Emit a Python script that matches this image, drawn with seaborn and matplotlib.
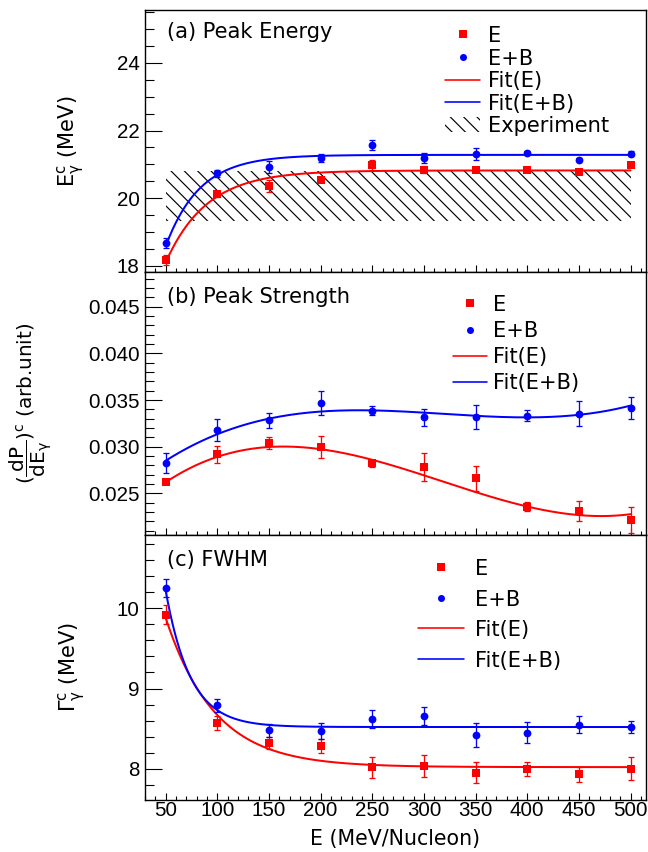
import numpy as np
import pandas as pd
import matplotlib
matplotlib.use("Agg")
import matplotlib.pyplot as plt
import seaborn as sns
from matplotlib.ticker import MultipleLocator
from matplotlib.lines import Line2D
from matplotlib.patches import Patch

# ---------------- data ----------------
beam_energy = [50, 100, 150, 200, 250, 300, 350, 400, 450, 500]

# (a) peak energy (MeV)
peak_E = [18.18, 20.12, 20.37, 20.55, 20.97, 20.84, 20.84, 20.84, 20.78, 20.99]
peak_E_err = [0.15, 0.08, 0.18, 0.08, 0.15, 0.10, 0.08, 0.08, 0.06, 0.08]
peak_EB = [18.68, 20.74, 20.92, 21.19, 21.57, 21.19, 21.30, 21.34, 21.14, 21.32]
peak_EB_err = [0.15, 0.10, 0.18, 0.12, 0.15, 0.14, 0.18, 0.06, 0.05, 0.06]
peak_fit_E = [20.82, 2.72, 39.6]     # plateau, depth, decay length
peak_fit_EB = [21.28, 2.70, 32.9]
experiment_band = [19.34, 20.80]

# (b) peak strength (arb. unit)
strength_E = [0.02616, 0.02917, 0.03040, 0.02993, 0.02822, 0.02779, 0.02659, 0.02355, 0.02308, 0.02214]
strength_E_err = [0.0002, 0.0009, 0.0006, 0.0012, 0.0004, 0.0015, 0.0013, 0.0005, 0.0011, 0.0014]
strength_EB = [0.02826, 0.03181, 0.03283, 0.03471, 0.03384, 0.03315, 0.03319, 0.03333, 0.03355, 0.03413]
strength_EB_err = [0.0011, 0.0012, 0.0008, 0.0013, 0.0005, 0.0009, 0.0013, 0.0006, 0.0013, 0.0012]

# (c) FWHM (MeV)
fwhm_E = [9.92, 8.57, 8.32, 8.28, 8.02, 8.03, 7.95, 8.00, 7.93, 8.00]
fwhm_E_err = [0.12, 0.09, 0.08, 0.09, 0.13, 0.135, 0.13, 0.09, 0.09, 0.14]
fwhm_EB = [10.25, 8.79, 8.48, 8.47, 8.62, 8.66, 8.42, 8.45, 8.55, 8.52]
fwhm_EB_err = [0.11, 0.08, 0.08, 0.105, 0.11, 0.11, 0.15, 0.13, 0.11, 0.08]
fwhm_fit_E = [8.02, 1.86, 47.5]      # plateau, amplitude, decay length
fwhm_fit_EB = [8.52, 1.70, 23.9]

xticks_vals = [50, 100, 150, 200, 250, 300, 350, 400, 450, 500]

# ---------------- style ----------------
DPI = 120
W, H = 648, 852


def pt(px):
    return px * 72.0 / DPI


RED = "#ff0000"
BLUE = "#0000ff"
TXT = pt(21)
TICK_FS = pt(20.5)

sns.set_theme(style="ticks")
plt.rcParams["font.family"] = ["DejaVu Sans"]
plt.rcParams["mathtext.default"] = "regular"
plt.rcParams["hatch.linewidth"] = 0.7
plt.rcParams["hatch.color"] = "black"
plt.rcParams["axes.linewidth"] = pt(1.4)
plt.rcParams["axes.edgecolor"] = "black"
plt.rcParams["text.color"] = "black"
plt.rcParams["axes.labelcolor"] = "black"
plt.rcParams["xtick.color"] = "black"
plt.rcParams["ytick.color"] = "black"
plt.rcParams["xtick.labelcolor"] = "black"
plt.rcParams["ytick.labelcolor"] = "black"

fig = plt.figure(figsize=(W / DPI, H / DPI), dpi=DPI)
L, R = 144.5, 646.0


def add(top, bottom):
    return fig.add_axes([L / W, 1 - bottom / H, (R - L) / W, (bottom - top) / H])


ax_a = add(10, 272)
ax_b = add(272, 535)
ax_c = add(535, 800)

x = np.array(beam_energy, dtype=float)
grid = np.linspace(x[0], x[-1], 400)


def sat(xx, p):
    return p[0] - p[1] * np.exp(-(xx - beam_energy[0]) / p[2])


def decay(xx, p):
    return p[0] + p[1] * np.exp(-(xx - beam_energy[0]) / p[2])


def draw(ax, yE, eE, yEB, eEB, fE, fEB):
    sns.lineplot(x=grid, y=fE, color=RED, lw=pt(2.0), ax=ax, zorder=2)
    sns.lineplot(x=grid, y=fEB, color=BLUE, lw=pt(2.0), ax=ax, zorder=2)
    ax.errorbar(x, yE, yerr=eE, fmt="none", ecolor=RED, elinewidth=pt(1.3),
                capsize=1.6, capthick=pt(1.3), zorder=3)
    ax.errorbar(x, yEB, yerr=eEB, fmt="none", ecolor=BLUE, elinewidth=pt(1.3),
                capsize=1.6, capthick=pt(1.3), zorder=3)
    sns.scatterplot(x=x, y=yE, marker="s", color=RED, s=pt(8.3) ** 2,
                    linewidth=0, ax=ax, zorder=4)
    sns.scatterplot(x=x, y=yEB, marker="o", color=BLUE, s=pt(7.8) ** 2,
                    linewidth=0, ax=ax, zorder=4)


# panel a
draw(ax_a, peak_E, peak_E_err, peak_EB, peak_EB_err,
     sat(grid, peak_fit_E), sat(grid, peak_fit_EB))
ax_a.fill_between([beam_energy[0], beam_energy[-1]], experiment_band[0], experiment_band[1],
                  facecolor="none", edgecolor="black", hatch="\\\\\\", linewidth=0, zorder=1)

# panel b
cE = np.polyfit(x, strength_E, 3, w=1 / np.array(strength_E_err))
cEB = np.polyfit(x, strength_EB, 3, w=1 / np.array(strength_EB_err))
draw(ax_b, strength_E, strength_E_err, strength_EB, strength_EB_err,
     np.polyval(cE, grid), np.polyval(cEB, grid))

# panel c
draw(ax_c, fwhm_E, fwhm_E_err, fwhm_EB, fwhm_EB_err,
     decay(grid, fwhm_fit_E), decay(grid, fwhm_fit_EB))

# ---------------- axes ----------------
limits = {ax_a: (17.82, 25.56), ax_b: (0.02053, 0.04872), ax_c: (7.61, 10.914)}
majors = {ax_a: 2, ax_b: 0.005, ax_c: 1}
minors = {ax_a: 0.5, ax_b: 0.001, ax_c: 0.2}

for ax in (ax_a, ax_b, ax_c):
    ax.set_xlim(29.5, 515)
    ax.set_ylim(*limits[ax])
    ax.set_xticks(xticks_vals)
    ax.xaxis.set_minor_locator(MultipleLocator(10))
    ax.yaxis.set_major_locator(MultipleLocator(majors[ax]))
    ax.yaxis.set_minor_locator(MultipleLocator(minors[ax]))
    ax.tick_params(axis="y", which="major", direction="in", length=pt(17), width=pt(1.1),
                   left=True, right=False, labelsize=TICK_FS, pad=pt(5),
                   labelfontfamily="Liberation Sans", color="black", labelcolor="black")
    ax.tick_params(axis="y", which="minor", direction="in", length=pt(8.5), width=pt(1.1),
                   left=True, right=False, color="black")
    ax.tick_params(axis="x", which="major", direction="in", length=pt(7.5), width=pt(1.1),
                   bottom=True, top=False, labelsize=TICK_FS, pad=pt(1.5),
                   labelfontfamily="Liberation Sans", color="black", labelcolor="black")
    ax.tick_params(axis="x", which="minor", direction="in", length=pt(3.8), width=pt(1.1),
                   bottom=True, top=False, color="black")
    for s in ax.spines.values():
        s.set_visible(True)
        s.set_color("black")
    ax.set_xlabel("")

ax_a.tick_params(axis="x", labelbottom=False)
ax_b.tick_params(axis="x", labelbottom=False)
ax_b.yaxis.set_major_formatter(matplotlib.ticker.FormatStrFormatter("%.3f"))

# labels
ax_a.set_ylabel(r"$E^{c}_{\gamma}$ (MeV)", fontsize=pt(21), va="center", color="black")
ax_a.yaxis.set_label_coords(-0.145, 0.5)
ax_b.set_ylabel(r"$(\dfrac{dP}{dE_{\gamma}})^{c}$ (arb.unit)", fontsize=pt(20), va="center",
                color="black")
ax_b.yaxis.set_label_coords(-0.227, 0.50)
ax_c.set_ylabel(r"$\Gamma^{c}_{\gamma}$ (MeV)", fontsize=pt(21), va="center", color="black")
ax_c.yaxis.set_label_coords(-0.143, 0.5)
ax_c.set_xlabel("E (MeV/Nucleon)", fontsize=pt(20.5), va="center", color="black")
ax_c.xaxis.set_label_coords(0.5, -0.147)

# titles
ax_a.text(0.044, 0.916, "(a) Peak Energy", transform=ax_a.transAxes, fontsize=TXT, va="center")
ax_b.text(0.044, 0.905, "(b) Peak Strength", transform=ax_b.transAxes, fontsize=TXT, va="center")
ax_c.text(0.044, 0.905, "(c) FWHM", transform=ax_c.transAxes, fontsize=TXT, va="center")


# legends
def handles(with_exp):
    h = [Line2D([], [], marker="s", ls="none", color=RED, markersize=pt(7.5), markeredgewidth=0),
         Line2D([], [], marker="o", ls="none", color=BLUE, markersize=pt(7.0), markeredgewidth=0),
         Line2D([], [], color=RED, lw=pt(1.6)),
         Line2D([], [], color=BLUE, lw=pt(1.6))]
    lab = ["E", "E+B", "Fit(E)", "Fit(E+B)"]
    if with_exp:
        h.append(Patch(facecolor="none", edgecolor="black", hatch="\\\\\\", linewidth=0))
        lab.append("Experiment")
    return h, lab


def legend(ax, with_exp, x0, y0, hl, htp, ls):
    h, lab = handles(with_exp)
    leg = ax.legend(h, lab, loc="upper left", bbox_to_anchor=(x0, y0), frameon=False,
                    borderpad=0, borderaxespad=0, handlelength=hl, handletextpad=htp,
                    labelspacing=ls, fontsize=TXT, handleheight=0.75)
    for t in leg.get_texts():
        t.set_color("black")


legend(ax_a, True, (445 - L) / (R - L), (272 - 26) / 262, 1.67, 0.38, 0.12)
legend(ax_b, False, (453 - L) / (R - L), (535 - 295) / 263, 1.6, 0.3, 0.29)
legend(ax_c, False, (418 - L) / (R - L), (800 - 559) / 265, 2.2, 0.5, 0.5)

fig.savefig("out.png", dpi=DPI)
